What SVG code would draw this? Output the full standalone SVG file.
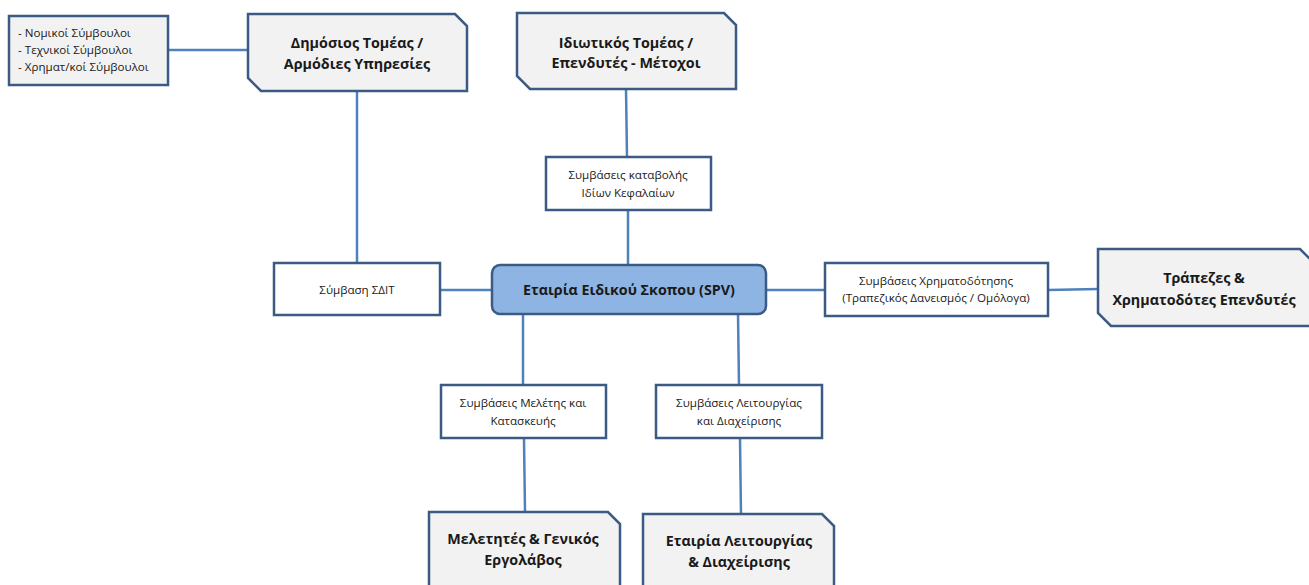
<svg xmlns="http://www.w3.org/2000/svg" width="1309" height="585" viewBox="0 0 1309 585">
<style>
.bg{fill:#ffffff}
.node{fill:#f2f2f2;stroke:#3b5b84;stroke-width:2.5;stroke-linejoin:miter}
.box{fill:#ffffff;stroke:#3b5b84;stroke-width:2.5}
.spv{fill:#8eb4e3;stroke:#3b5b84;stroke-width:2.5}
.conn line{stroke:#4f81bd;stroke-width:2.5}
text{font-family:"Open Sans","Noto Sans",sans-serif;fill:#1a1a1a;text-anchor:middle}
.big{font-size:14.3px;font-weight:bold}
.small{font-size:11.6px}
.left{text-anchor:start}
</style>
<rect class="bg" x="0" y="0" width="1309" height="585"/>
<g id="connectors" class="conn">
<line x1="168" y1="50" x2="248" y2="50"/>
<line x1="357" y1="92" x2="357" y2="263"/>
<line x1="626" y1="89" x2="627" y2="157"/>
<line x1="628" y1="210" x2="628" y2="266"/>
<line x1="440" y1="290" x2="492" y2="290"/>
<line x1="766" y1="290" x2="825" y2="290"/>
<line x1="1048" y1="290" x2="1098" y2="289"/>
<line x1="523" y1="314" x2="523" y2="385"/>
<line x1="738" y1="314" x2="739" y2="385"/>
<line x1="524" y1="439" x2="525" y2="512"/>
<line x1="740" y1="439" x2="741" y2="514"/>
</g>
<g id="advisors">
<rect class="box" x="9" y="16" width="159" height="69" style="fill:#f2f2f2"/>
<text class="small left" x="18" y="37">- Νομικοί Σύμβουλοι</text>
<text class="small left" x="18" y="54">- Τεχνικοί Σύμβουλοι</text>
<text class="small left" x="18" y="71">- Χρηματ/κοί Σύμβουλοι</text>
</g>
<g id="public">
<path class="node" d="M248,14 H455 L467,26 V91 H261 L248,78 Z"/>
<text class="big" x="357" y="48">Δημόσιος Τομέας /</text>
<text class="big" x="357" y="69">Αρμόδιες Υπηρεσίες</text>
</g>
<g id="private">
<path class="node" d="M517,13 H724 L736,25 V89 H530 L517,76 Z"/>
<text class="big" x="626" y="48">Ιδιωτικός Τομέας /</text>
<text class="big" x="626" y="68">Επενδυτές - Μέτοχοι</text>
</g>
<g id="equity">
<rect class="box" x="546" y="157" width="165" height="53"/>
<text class="small" x="628" y="179">Συμβάσεις καταβολής</text>
<text class="small" x="628" y="197">Ιδίων Κεφαλαίων</text>
</g>
<g id="ppp">
<rect class="box" x="274" y="263" width="166" height="52"/>
<text class="small" x="357" y="294">Σύμβαση ΣΔΙΤ</text>
</g>
<g id="spv">
<rect class="spv" x="492" y="265" width="274" height="49" rx="8"/>
<text class="big" x="629" y="295">Εταιρία Ειδικού Σκοπου (SPV)</text>
</g>
<g id="financing">
<rect class="box" x="825" y="263" width="223" height="53"/>
<text class="small" x="936" y="285">Συμβάσεις Χρηματοδότησης</text>
<text class="small" x="936" y="302">(Τραπεζικός Δανεισμός / Ομόλογα)</text>
</g>
<g id="banks">
<path class="node" d="M1098,249 H1300 L1312,261 V326 H1111 L1098,313 Z"/>
<text class="big" x="1204" y="283">Τράπεζες &amp;</text>
<text class="big" x="1204" y="305">Χρηματοδότες Επενδυτές</text>
</g>
<g id="design">
<rect class="box" x="441" y="385" width="165" height="53"/>
<text class="small" x="523" y="407">Συμβάσεις Μελέτης και</text>
<text class="small" x="523" y="425">Κατασκευής</text>
</g>
<g id="operation">
<rect class="box" x="656" y="385" width="166" height="53"/>
<text class="small" x="739" y="407">Συμβάσεις Λειτουργίας</text>
<text class="small" x="739" y="425">και Διαχείρισης</text>
</g>
<g id="contractor">
<path class="node" d="M429,512 H608 L620,524 V600 H442 L429,587 Z"/>
<text class="big" x="523" y="544">Μελετητές &amp; Γενικός</text>
<text class="big" x="523" y="565">Εργολάβος</text>
</g>
<g id="opco">
<path class="node" d="M643,514 H822 L834,526 V600 H656 L643,587 Z"/>
<text class="big" x="739" y="546">Εταιρία Λειτουργίας</text>
<text class="big" x="739" y="567">&amp; Διαχείρισης</text>
</g>
</svg>
